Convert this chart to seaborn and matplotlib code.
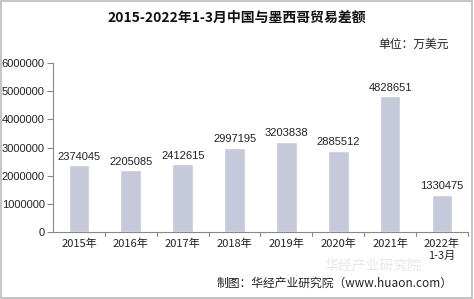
import matplotlib
matplotlib.use("Agg")
import matplotlib.pyplot as plt
import seaborn as sns
import pandas as pd
from matplotlib.patches import Rectangle

categories = ["2015年", "2016年", "2017年", "2018年", "2019年", "2020年", "2021年", "2022年\n1-3月"]
values = [2374045, 2205085, 2412615, 2997195, 3203838, 2885512, 4828651, 1330475]
yticks = [0, 1000000, 2000000, 3000000, 4000000, 5000000, 6000000]

sns.set_style("white")
plt.rcParams['font.family'] = ['Noto Sans CJK SC', 'DejaVu Sans']

df = pd.DataFrame({"year": categories, "value": values})

fig = plt.figure(figsize=(4.74, 2.99), dpi=100)
ax = fig.add_axes([0.112, 0.224, 0.875, 0.565])
sns.barplot(data=df, x="year", y="value", color="#C5C9D9", saturation=1, width=0.4, ax=ax)

ax.set_ylim(0, 6000000)
ax.set_xlim(-0.5, len(categories) - 0.5)
ax.set_yticks(yticks)
ax.set_yticklabels([str(v) for v in yticks], fontsize=8, color="#222222", family=['Liberation Sans', 'DejaVu Sans'])
ax.set_xticks(range(len(categories)))
ax.set_xticklabels(categories, fontsize=8, color="#222222")
ax.tick_params(axis='x', length=0, pad=5)
ax.tick_params(axis='y', length=4, width=0.8, color="#888888", direction='out', pad=2, left=True)
for b in [i - 0.5 for i in range(1, len(categories) + 1)]:
    ax.plot([b, b], [0, -0.025], transform=ax.get_xaxis_transform(), color="#888888", lw=0.8, clip_on=False)
ax.set_xlabel("")
ax.set_ylabel("")
for s in ["top", "right"]:
    ax.spines[s].set_visible(False)
for s in ["left", "bottom"]:
    ax.spines[s].set_color("#888888")
    ax.spines[s].set_linewidth(0.8)

for i, v in enumerate(values):
    ax.text(i, v + 120000, str(v), ha="center", va="bottom", fontsize=8, color="#222222",
            family=['Liberation Sans', 'DejaVu Sans'])

fig.text(0.5, 0.94, "2015-2022年1-3月中国与墨西哥贸易差额", ha="center", va="center",
         fontsize=10, fontweight="bold", color="#111111")
fig.text(0.948, 0.853, "单位：万美元", ha="right", va="center", fontsize=8.5, color="#222222")
fig.text(0.955, 0.053, "制图：华经产业研究院（www.huaon.com）", ha="right", va="center", fontsize=8.5, color="#222222")
fig.text(0.89, 0.112, "华经产业研究院", ha="right", va="center", fontsize=10, color="#d8d8d8", alpha=0.6, zorder=0)

fig.patches.append(Rectangle((0.002, 0.003), 0.994, 0.993, transform=fig.transFigure,
                             fill=False, edgecolor="#bbbbbb", lw=1.2))

fig.savefig("out.png", dpi=100)
